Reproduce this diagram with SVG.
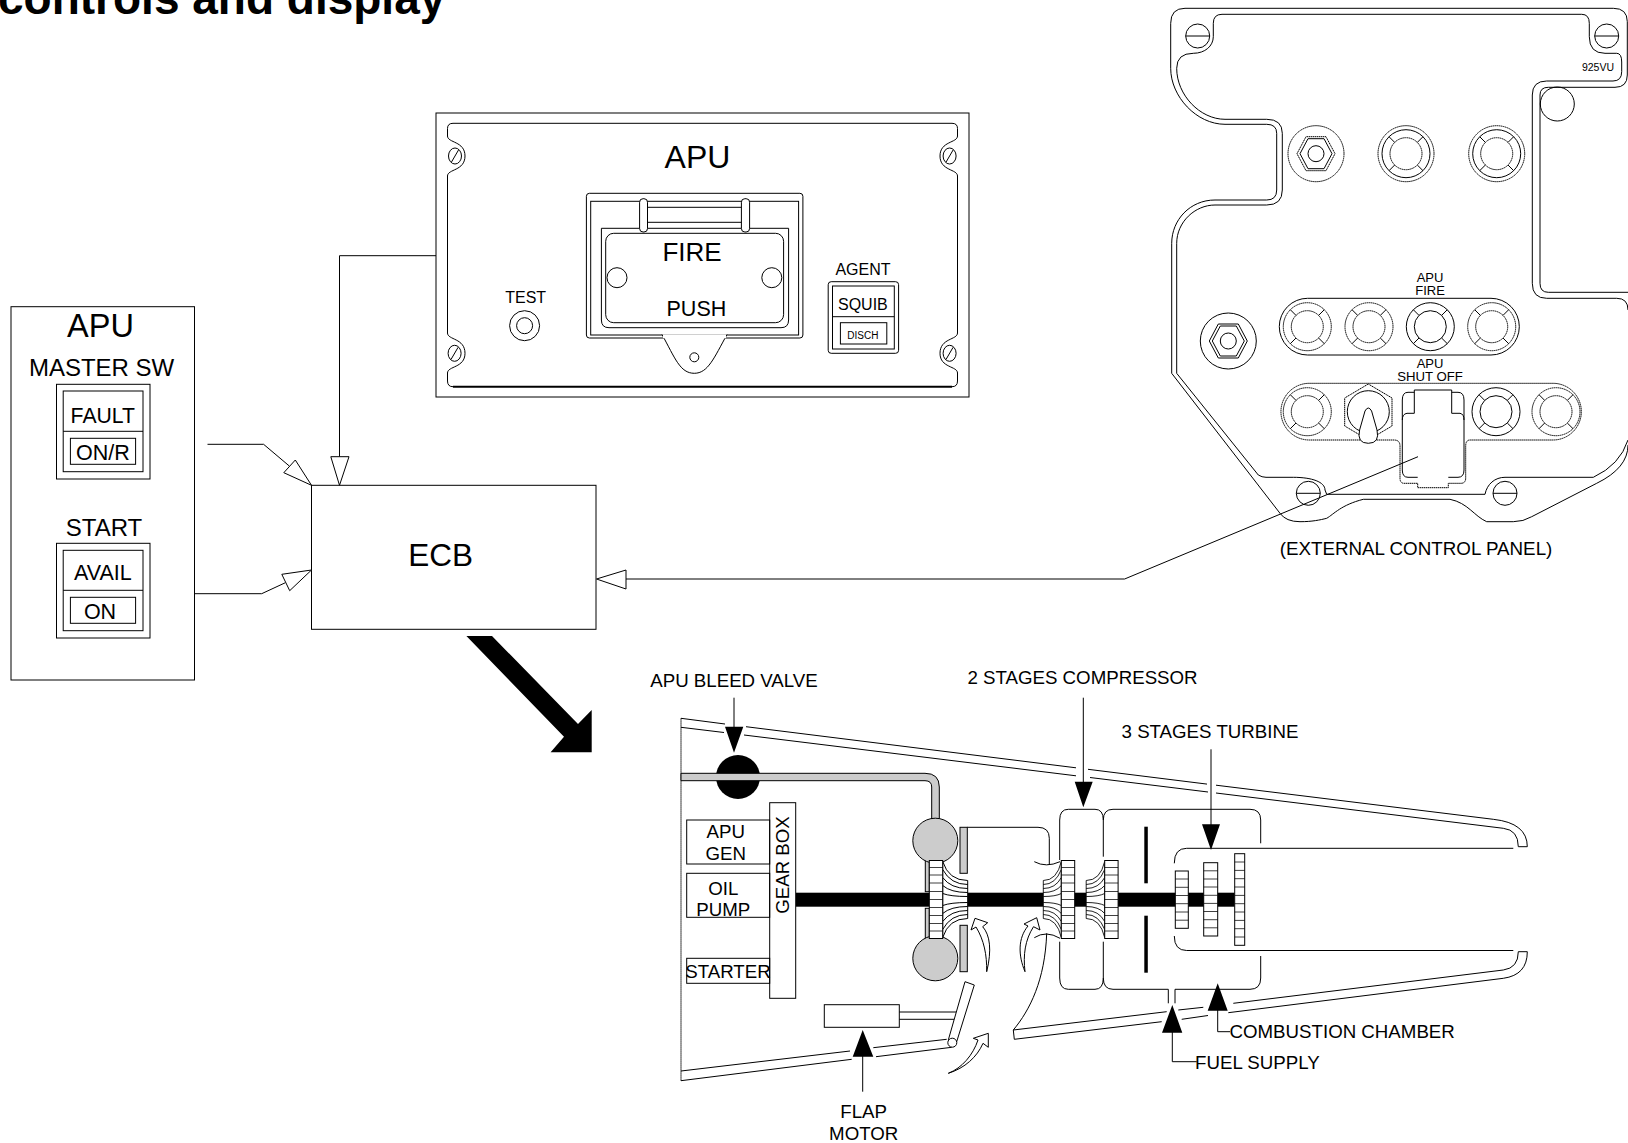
<svg xmlns="http://www.w3.org/2000/svg" xmlns:xlink="http://www.w3.org/1999/xlink" width="1628" height="1143" viewBox="0 0 1628 1143">
<style>
text{font-family:"Liberation Sans",Arial,sans-serif;fill:#000;text-anchor:middle}
.s{fill:none;stroke:#000;stroke-width:1}
.w{fill:#fff;stroke:#000;stroke-width:1}
.g{fill:#ccc;stroke:#000;stroke-width:1}
.k{fill:#000;stroke:none}
.d{fill:none;stroke:#000;stroke-width:1;stroke-dasharray:1.5 .5}
.l{text-anchor:start}
</style>
<defs>
<g id="screw"><ellipse class="s" rx="6.5" ry="8"/><path class="s" d="M-3.5,6 L3.5,-6"/></g>
<g id="screwH"><circle class="s" r="12"/><path class="s" d="M-12,0 H12"/></g>
<g id="light"><circle class="d" r="24"/><circle class="d" r="16"/><path class="s" d="M-11.3,-11.3 L-17,-17 M11.3,-11.3 L17,-17 M-11.3,11.3 L-17,17 M11.3,11.3 L17,17"/></g>
<g id="lightB"><circle class="s" r="24"/><circle class="s" r="16"/><path class="s" d="M-11.3,-11.3 L-17,-17 M11.3,-11.3 L17,-17 M-11.3,11.3 L-17,17 M11.3,11.3 L17,17"/></g>
<g id="lightT"><circle class="d" r="28"/><circle class="s" r="24"/><circle class="d" r="16"/><path class="s" d="M-11.3,-11.3 L-17,-17 M11.3,-11.3 L17,-17 M-11.3,11.3 L-17,17 M11.3,11.3 L17,17"/></g>
<g id="nut"><circle class="d" r="28"/><path class="d" d="M-19,0 L-10,-17 H10 L19,0 L10,17 H-10 Z"/><path class="s" d="M-16,0 L-8,-15 H8 L16,0 L8,15 H-8 Z"/><circle class="s" r="8"/></g>
<g id="nutS"><circle class="s" r="28"/><path class="s" d="M-19,0 L-10,-17 H10 L19,0 L10,17 H-10 Z"/><path class="s" d="M-16,0 L-8,-15 H8 L16,0 L8,15 H-8 Z"/><circle class="s" r="8"/></g>
<g id="wheel"><rect class="w" x="0" y="-39" width="13.4" height="78"/><path class="s" stroke-opacity=".75" d="M0,-32 H13.4 M0,-24.5 H13.4 M0,-16.5 H13.4 M0,-8 H13.4 M0,0 H13.4 M0,8 H13.4 M0,16 H13.4 M0,24 H13.4 M0,31.5 H13.4"/></g>
<g id="blades"><path class="w" d="M0,-38 Q6,-19 25,-19 V19 Q6,19 0,38 Z"/><path class="s" d="M0,-30 Q8,-15 25,-15 M0,-22 Q8,-11 25,-11 M0,-14 Q8,-7 25,-7 M0,-6 Q8,-3 25,-3 M0,6 Q8,3 25,3 M0,14 Q8,7 25,7 M0,22 Q8,11 25,11 M0,30 Q8,15 25,15"/></g>
</defs>

<text id="title" x="-2" y="14" style="text-anchor:start;font-weight:bold" font-size="46">controls and display</text>

<g id="apu-master-panel">
<rect class="s" x="11" y="306.7" width="183.5" height="373.3"/>
<text x="100.5" y="337" font-size="32.5">APU</text>
<text x="101.6" y="376" font-size="24">MASTER SW</text>
<text x="104" y="535.7" font-size="24">START</text>
</g>
<g id="fault-switch">
<rect class="s" x="56.5" y="384.3" width="93.5" height="94.7"/>
<rect class="s" x="63.2" y="391" width="79.8" height="80.7"/>
<path class="s" d="M63.2,431.3 H143"/>
<rect class="s" x="70.4" y="438.3" width="65.2" height="26"/>
<text x="102.8" y="422.7" font-size="21.2">FAULT</text>
<text x="102.8" y="460" font-size="21.5">ON/R</text>
</g>
<g id="start-switch">
<rect class="s" x="56.5" y="543.3" width="93.5" height="94.7"/>
<rect class="s" x="63.2" y="550.3" width="79.8" height="80.4"/>
<path class="s" d="M63.2,590.3 H143"/>
<rect class="s" x="70.4" y="597.3" width="65.2" height="26"/>
<text x="102.8" y="580" font-size="21.5">AVAIL</text>
<text x="100" y="618.7" font-size="21.5">ON</text>
</g>

<g id="ecb">
<rect class="s" x="311.5" y="485.3" width="284.5" height="144"/>
<text x="440.7" y="566" font-size="31.5">ECB</text>
</g>

<g id="connectors">
<path class="s" d="M207.5,444.3 H263.6 L289.3,466"/>
<path class="w" d="M295.3,460 L283.8,472.7 L311.5,485.3 Z"/>
<path class="s" d="M194.5,593.7 H261.7 L285.4,582.7"/>
<path class="w" d="M281.8,574.3 L289.7,590.7 L311.5,570 Z"/>
<path class="s" d="M436,255.7 H339.5 V456.7"/>
<path class="w" d="M330.8,456.7 H349 L339.5,485.3 Z"/>
<path class="s" d="M626,579 H1124.6 L1418,456.7"/>
<path class="w" d="M626,570 V589 L596.5,579 Z"/>
<path class="k" d="M466.4,636 H492 L578,724 L591.7,710 V752.3 H550.6 L564,736.7 Z"/>
</g>

<g id="apu-fire-panel">
<rect class="s" x="436" y="113" width="533" height="284"/>
<path class="s" d="M453,123.3 H952 Q957.5,123.3 957.5,128.5 V136 C957.5,143 940,141 940,156 C940,171 957.5,169 957.5,176 V333 C957.5,340 940,338 940,353.3 C940,368 957.5,366 957.5,373 V381 Q957.5,386.7 952,386.7"/>
<path class="s" d="M453,123.3 Q447.5,123.3 447.5,128.5 V136 C447.5,143 465,141 465,156 C465,171 447.5,169 447.5,176 V333 C447.5,340 465,338 465,353.3 C465,368 447.5,366 447.5,373 V381 Q447.5,386.7 453,386.7"/>
<path d="M453,386.7 H952" fill="none" stroke="#000" stroke-width="2"/>
<use xlink:href="#screw" href="#screw" x="455" y="156"/>
<use xlink:href="#screw" href="#screw" x="949.6" y="156"/>
<use xlink:href="#screw" href="#screw" x="454.6" y="353.3"/>
<use xlink:href="#screw" href="#screw" x="949.6" y="353.3"/>
<text x="697.5" y="167.7" font-size="32">APU</text>
</g>
<g id="fire-switch">
<rect class="s" x="586.4" y="193.3" width="216.5" height="144.7" rx="3"/>
<rect class="s" x="590.7" y="201.3" width="207.9" height="133.7"/>
<path class="s" d="M601.4,228.3 H788.6 V320 Q788.6,327.7 781,327.7 H609 Q601.4,327.7 601.4,320 Z"/>
<rect class="w" x="605.7" y="233.3" width="177.9" height="89.4" rx="8"/>
<rect class="w" x="639.6" y="198.7" width="7.9" height="33.3" rx="3.5"/>
<rect class="w" x="741.4" y="198.7" width="8.2" height="33.3" rx="3.5"/>
<path class="s" d="M647.5,207.3 H741.4 M647.5,222.3 H741.4"/>
<circle class="s" cx="617" cy="277.7" r="10"/>
<circle class="s" cx="771.8" cy="277.7" r="10"/>
<path d="M662,334.5 C675,358 680,373.3 694.3,373.3 C708,373.3 714,358 727,334.5" fill="#fff" stroke="#000"/>
<path stroke="#fff" stroke-width="3.5" d="M663,336.5 H726"/>
<circle class="s" cx="694.3" cy="357.3" r="4.5"/>
<text x="692" y="260.5" font-size="26">FIRE</text>
<text x="696.4" y="316" font-size="21.5">PUSH</text>
</g>
<g id="test-button">
<circle class="s" cx="524.6" cy="325.7" r="15"/>
<circle class="s" cx="524.6" cy="325.7" r="8"/>
<text x="525.7" y="302.7" font-size="16">TEST</text>
</g>
<g id="agent-switch">
<rect class="s" x="828.2" y="281.7" width="70.4" height="71.6" rx="3"/>
<rect class="s" x="832.5" y="286" width="61.8" height="63"/>
<path class="s" d="M832.5,316.7 H894.3"/>
<rect class="s" x="840.4" y="322.7" width="46.4" height="21.3"/>
<text x="863" y="275" font-size="16">AGENT</text>
<text x="862.9" y="310" font-size="16">SQUIB</text>
<text x="862.9" y="339.3" font-size="10">DISCH</text>
</g>

<g id="external-control-panel">
<path class="s" d="M1185,8.3 H1613.3 Q1627.3,8.3 1627.3,21.7 V75 Q1627.3,87.3 1615,87.3 H1548.3 Q1540,87.3 1540,95 V283.3 Q1540,292.3 1548.3,292.3 H1628"/>
<path class="s" d="M1185,8.3 Q1170.7,8.3 1170.7,23.3 V68.3 C1170.7,96.7 1196.7,124.3 1225,124.3 H1266.7 Q1276.7,124.3 1276.7,133.3 V190 Q1276.7,200 1266.7,200 H1215 C1190,200 1171.7,220 1171.7,243.3 V373.3 L1280,513.3 Q1286,521.7 1300,521.7 C1312,521.7 1320,520 1326.7,518.3 C1334,514 1341,505 1363.3,499.3 H1450 C1468,503 1474,516 1486.7,521.7 H1513.3 Q1523.3,521.7 1531.7,516.7 L1596.7,483.3 Q1628,468 1628,445"/>
<path class="s" d="M1193.3,53.3 C1205,53.3 1213.3,46 1213.3,36.7 V23.3 Q1213.3,14.3 1222,14.3 H1581.7 Q1589.3,14.3 1589.3,23.3 V36.7 Q1589.3,53.3 1605,53.3 H1616.7 Q1621.7,53.3 1621.7,62 V71.7 Q1621.7,81 1613,81 H1546.7 Q1532.3,81 1532.3,95 V283.3 Q1532.3,298.3 1546.7,298.3 H1616.7 Q1628,298.3 1628,310"/>
<path class="s" d="M1193.3,53.3 Q1176.7,53.3 1176.7,68.3 C1176.7,95 1200,119.3 1225,119.3 H1266.7 Q1282.3,119.3 1282.3,133.3 V190 Q1282.3,205 1266.7,205 H1215 C1195,205 1176.7,222 1176.7,243.3 V373.3 L1258.3,475 Q1262,477.3 1266,477.3 H1293.3 C1312,477.3 1325,482 1325,490 L1326.7,494.3 H1485 C1487,484 1495,477.3 1505,477.3 H1593.3 Q1620,465 1628,440"/>
<use xlink:href="#screwH" href="#screwH" x="1197.7" y="36"/>
<use xlink:href="#screwH" href="#screwH" x="1606.7" y="36"/>
<use xlink:href="#screwH" href="#screwH" x="1308.3" y="493.3"/>
<use xlink:href="#screwH" href="#screwH" x="1505" y="493.3"/>
<circle class="s" cx="1557.3" cy="104" r="17"/>
<text x="1598" y="71.3" font-size="10.5">925VU</text>
<use xlink:href="#nut" href="#nut" x="1316" y="153.7"/>
<use xlink:href="#lightT" href="#lightT" x="1406" y="153.7"/>
<use xlink:href="#lightT" href="#lightT" x="1496.7" y="153.7"/>
<use xlink:href="#nutS" href="#nutS" x="1228.3" y="341"/>
<text x="1430" y="281.7" font-size="13">APU</text>
<text x="1430" y="294.7" font-size="13">FIRE</text>
<text x="1430" y="367.7" font-size="13">APU</text>
<text x="1430" y="380.7" font-size="13.2">SHUT OFF</text>
<text x="1416" y="555" font-size="18.8">(EXTERNAL CONTROL PANEL)</text>
</g>
<g id="apu-fire-row">
<rect class="s" x="1279.3" y="298.3" width="240" height="56.7" rx="28.3"/>
<use xlink:href="#light" href="#light" x="1307.3" y="326.7"/>
<use xlink:href="#light" href="#light" x="1369" y="326.7"/>
<use xlink:href="#lightB" href="#lightB" x="1430.3" y="326.7"/>
<use xlink:href="#light" href="#light" x="1491.7" y="326.7"/>
</g>
<g id="apu-shutoff-row">
<path class="d" d="M1309.3,383.3 H1553 A28.3,28.3 0 0 1 1553,440 H1470 Q1465.7,440 1465.7,446 V478 Q1465.7,483.3 1461,483.3 H1448.3 V487.7 H1417.7 V483.3 H1404 Q1400,483.3 1400,478 V446 Q1400,440 1394,440 H1309.3 A28.3,28.3 0 0 1 1309.3,383.3 Z"/>
<use xlink:href="#light" href="#light" x="1307.3" y="411.7"/>
<use xlink:href="#lightB" href="#lightB" x="1496" y="411.7"/>
<use xlink:href="#light" href="#light" x="1556" y="411.7"/>
<path class="d" d="M1368.3,384 L1392,398 V426 L1368.3,440 L1344.7,426 V398 Z"/>
<circle class="s" cx="1368.3" cy="411.7" r="21"/>
<path class="w" d="M1365,411 Q1368.3,405 1371.6,411 L1377,430 Q1380,443.3 1368.3,443.3 Q1356.6,443.3 1359.6,430 Z"/>
<path class="s" d="M1402.3,420 V400 Q1402.3,392.3 1408,392.3 H1414.3 M1451.7,392.3 H1458 Q1464,392.3 1464,400 V420"/>
<path class="s" d="M1414.3,413.3 V390 H1451.7 V413.3 M1414.3,413.3 H1407 Q1402.3,414 1402.3,420 V470 Q1402.3,477.3 1408,477.3 H1417.7 M1451.7,413.3 H1460 Q1464,414 1464,420 V470 Q1464,477.3 1458,477.3 H1448.3"/>
</g>

<g id="nacelle">
<path class="s" d="M681,718.3 L725,724 M746,726.7 L1076,767.8 M1088,769.3 L1207,784.1 M1216,785.2 L1493.3,819.3 Q1527.3,823 1527.3,846.7 H1518.3 Q1518.3,830 1503.3,828.3 L1216,793 M1208,792 L1090,777.5 M1076,775.8 L744,735 M724,732.5 L681,727.3"/>
<path class="d" d="M681,718.3 V1081"/>
<path class="s" d="M681,1071 L850,1051 M873.3,1047.7 L946.7,1039.3 M951.7,1047.3 L876,1056.7 M851.7,1059.3 L681,1080.7"/>
<path class="s" d="M1046.7,933.3 C1045,980 1030,1010 1013.3,1030 L1014.3,1039.3 L1161.7,1021.7 M1181.7,1019.3 L1208,1015.5 M1228.3,1012.7 L1503.3,978.3 Q1527.3,975 1527.3,951.7 H1518.3 Q1518.3,968 1503.3,970 L1233.3,1003.3 M1203.3,1007.3 L1178.3,1010 M1166.7,1011.7 L1013.3,1030"/>
</g>
<g id="engine-casing">
<path class="s" d="M1059.7,860 V820 Q1059.7,809.3 1068.3,809.3 H1095 Q1103.3,809.3 1103.3,820 V856.7 M1103.3,820 Q1103.3,809.3 1113,809.3 H1250 Q1260.7,809.3 1260.7,820 V843.3"/>
<path class="s" d="M1059.7,941.7 V978 Q1059.7,989.3 1068.3,989.3 H1095 Q1103.3,989.3 1103.3,978 V941.7 M1103.3,978 Q1103.3,989.3 1113,989.3 H1168.3 V1003.3 M1175,1003.3 V989.3 H1250 Q1260.7,989.3 1260.7,978 V956"/>
<path class="s" d="M1174.3,863.3 Q1174.3,848.3 1186.7,848.3 H1513.3 M1174.3,936 Q1174.3,950.5 1186.7,950.5 H1513.3"/>
<rect class="k" x="1144.3" y="826.7" width="3.5" height="56.6"/>
<rect class="k" x="1144.3" y="915.7" width="3.5" height="57"/>
<path class="s" d="M967.3,827.3 H1038 Q1049.3,827.3 1049.3,838.3 V865"/>
<path class="s" d="M1034.3,861.7 Q1046,868 1060,861.7 M1034.3,937.7 Q1046,930 1060,938.3"/>
</g>
<g id="bleed-valve">
<circle class="k" cx="738" cy="777" r="22"/>
<path class="g" d="M681,773.3 H925 Q939.3,773.3 939.3,787 V820 H931.7 V787 Q931.7,780.7 925,780.7 H681 Z"/>
</g>
<g id="shaft"><rect class="k" x="795.7" y="892.7" width="439" height="14"/></g>
<g id="gear-box">
<rect class="w" x="769.7" y="802.7" width="26" height="195.6"/>
<text transform="translate(789.3,865) rotate(-90)" font-size="18.7">GEAR BOX</text>
</g>
<g id="apu-gen">
<rect class="s" x="686.7" y="820" width="83" height="44"/>
<text x="725.7" y="838.3" font-size="18.7">APU</text>
<text x="725.7" y="860" font-size="18.7">GEN</text>
</g>
<g id="oil-pump">
<rect class="s" x="686.7" y="873.3" width="83" height="44"/>
<text x="723.3" y="895" font-size="18.7">OIL</text>
<text x="723.3" y="916" font-size="18.7">PUMP</text>
</g>
<g id="starter">
<rect class="s" x="686.7" y="958.3" width="83" height="25"/>
<text x="728" y="977.7" font-size="18.7">STARTER</text>
</g>
<g id="compressor-1">
<rect class="g" x="925.3" y="860" width="4" height="31.7"/>
<rect class="g" x="925.3" y="908.3" width="4" height="30"/>
<circle class="g" cx="935.3" cy="840.7" r="22.5"/>
<circle class="g" cx="935.3" cy="958.3" r="22.5"/>
<rect class="g" x="960" y="827.3" width="7.3" height="46"/>
<rect class="g" x="960" y="925.3" width="7.3" height="46.4"/>
<use xlink:href="#blades" href="#blades" transform="translate(942.7,899.5)"/>
<use xlink:href="#wheel" href="#wheel" x="929.3" y="899.5"/>
</g>
<g id="compressor-2">
<use xlink:href="#blades" href="#blades" transform="translate(1061.3,899.5) scale(-.72,1)"/>
<use xlink:href="#wheel" href="#wheel" x="1061.3" y="899.5"/>
<use xlink:href="#blades" href="#blades" transform="translate(1104.7,899.5) scale(-.74,1)"/>
<use xlink:href="#wheel" href="#wheel" x="1104.7" y="899.5"/>
</g>
<g id="turbine">
<rect class="w" x="1175.3" y="871" width="13" height="57.3"/>
<path class="s" stroke-opacity=".75" d="M1175.3,879 H1188.3 M1175.3,887.3 H1188.3 M1175.3,895.5 H1188.3 M1175.3,903.7 H1188.3 M1175.3,912 H1188.3 M1175.3,920.2 H1188.3"/>
<rect class="w" x="1203.7" y="862.7" width="14" height="73.3"/>
<path class="s" stroke-opacity=".75" d="M1203.7,870.8 H1217.7 M1203.7,879 H1217.7 M1203.7,887 H1217.7 M1203.7,895.3 H1217.7 M1203.7,903.4 H1217.7 M1203.7,911.5 H1217.7 M1203.7,919.7 H1217.7 M1203.7,927.8 H1217.7"/>
<rect class="w" x="1234.7" y="853.7" width="10" height="91.6"/>
<path class="s" stroke-opacity=".75" d="M1234.7,862 H1244.7 M1234.7,870.4 H1244.7 M1234.7,878.7 H1244.7 M1234.7,887 H1244.7 M1234.7,895.4 H1244.7 M1234.7,903.7 H1244.7 M1234.7,912 H1244.7 M1234.7,920.4 H1244.7 M1234.7,928.7 H1244.7 M1234.7,937 H1244.7"/>
</g>
<g id="flap">
<rect class="w" x="824.3" y="1004.7" width="75" height="22.6"/>
<path class="s" d="M899.3,1012 H956 M899.3,1019.3 H954"/>
<path class="w" d="M948.3,1040 L965,981.7 L974.3,985 L956.7,1041.7 Z"/>
<circle class="w" cx="952.3" cy="1042.7" r="4.5"/>
</g>
<g id="airflow">
<path class="w" d="M986.7,971.7 C992,950 990,935 982.7,926.7 L987.7,922.7 L975,918.3 L971,930 L976,927 C984,940 987,955 986.7,971.7 Z"/>
<path class="w" d="M1025,971.7 C1018,955 1018,938 1028,926 L1024,924 L1036.7,917.7 L1040,930 L1033.5,926.7 C1025,940 1023,955 1025,971.7 Z"/>
<path class="w" d="M948.3,1073.3 C962,1068 973,1055 978,1040 L973.3,1038.3 L988.3,1033.3 L988.3,1047.3 L983,1043.3 C977,1057 965,1068 948.3,1073.3 Z"/>
</g>
<g id="callouts">
<path class="s" d="M734,697.7 V727 M1083.3,697.7 V782 M1211,749.3 V825 M862.7,1056 V1091.7 M1172.3,1032 V1061.7 H1196.7 M1217.7,1010 V1031.7 H1230"/>
<path class="k" d="M725,726.7 H743.3 L734,752.7 Z M1074.7,781.7 H1092.7 L1083.3,807.3 Z M1202,824.3 H1220 L1211,850 Z M862.7,1030 L873.3,1056.7 H852.7 Z M1172.3,1005 L1182.3,1032.7 H1162 Z M1217.7,983.3 L1227.7,1010.7 H1207.7 Z"/>
<text x="734" y="687" font-size="18.7">APU BLEED VALVE</text>
<text x="1082.5" y="684" font-size="18.7">2 STAGES COMPRESSOR</text>
<text x="1210" y="737.7" font-size="18.7">3 STAGES TURBINE</text>
<text x="863.7" y="1118" font-size="18.7">FLAP</text>
<text x="863.7" y="1140" font-size="18.7">MOTOR</text>
<text class="l" x="1195" y="1069" font-size="18.7">FUEL SUPPLY</text>
<text class="l" x="1229.5" y="1038.3" font-size="18.7">COMBUSTION CHAMBER</text>
</g>
</svg>
